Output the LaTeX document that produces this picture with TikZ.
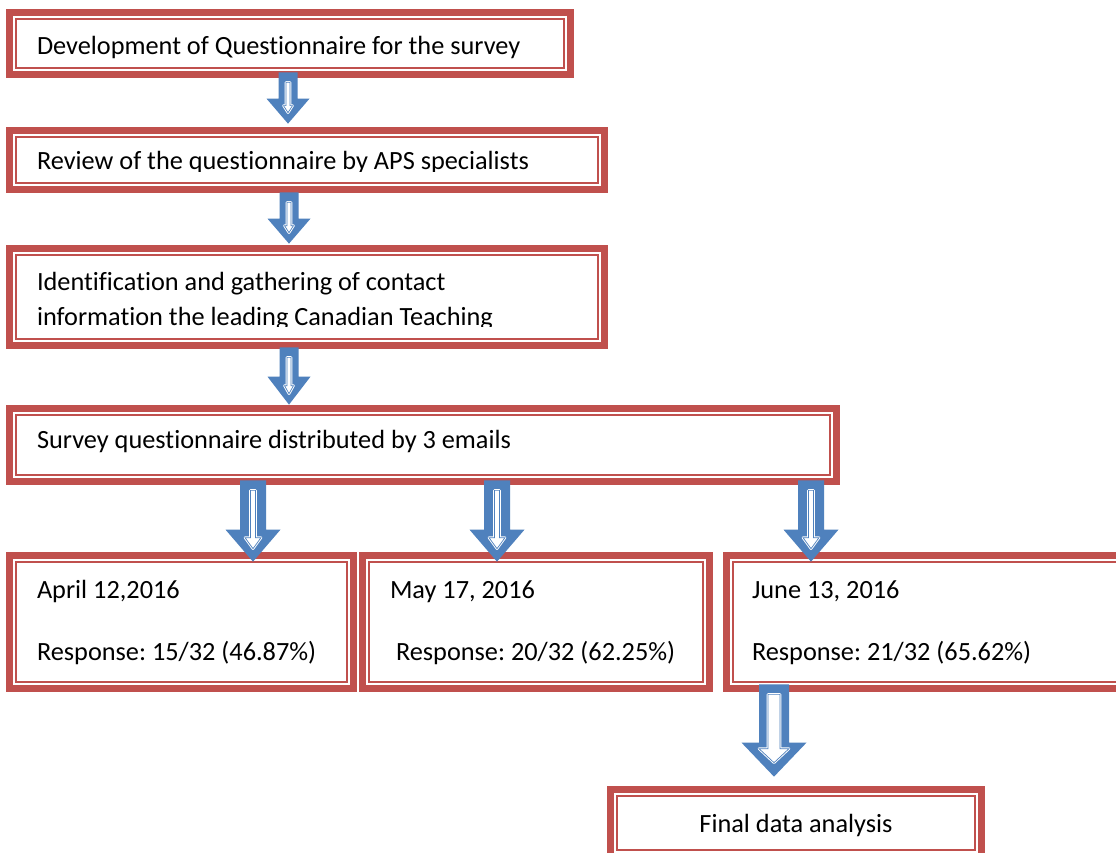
\documentclass[tikz,border=0pt]{standalone}
\usepackage{fontspec}
\setmainfont{Carlito}[Ligatures=NoCommon]
\frenchspacing
\usetikzlibrary{calc}
\definecolor{boxred}{HTML}{C0504D}
\definecolor{arrowblue}{HTML}{4F81BD}
\tikzset{
  dbox/.style={draw=boxred, line width=7.3pt, fill=white, inner sep=0pt, outer sep=0pt, rectangle,
    path picture={\draw[boxred, line width=1.8pt]
      ([shift={(6.45pt,6.45pt)}]path picture bounding box.south west) rectangle
      ([shift={(-6.45pt,-6.45pt)}]path picture bounding box.north east);}},
  txt/.style={anchor=base west, inner sep=0pt, outer sep=0pt, text=black,
    font=\fontsize{26.3}{31.5}\selectfont\frenchspacing},
  txtc/.style={txt, anchor=base}
}
\newcommand\bx[5]{\node[dbox, minimum width={#4-#2-7.3}, minimum height={#5-#3-7.3}] (#1) at ({(#2+#4)/2},{(#3+#5)/2}) {};}
% #1 top coord, #2 tip coord, #3 shaft half, #4 head half, #5 head length,
% #6 inner shaft half, #7 inner head half, #8 tip inset, #9 inner head-base offset
\newcommand\blockarrow[9]{%
  \fill[arrowblue] ($(#1)+(-#3,0)$) -- ($(#1)+(#3,0)$) -- ($(#2)+(#3,-#5)$) -- ($(#2)+(#4,-#5)$) -- (#2)
    -- ($(#2)+(-#4,-#5)$) -- ($(#2)+(-#3,-#5)$) -- cycle;
  \filldraw[fill=white, draw=white, line width=2.6pt, line join=round]
    ($(#1)+(-#6,10)$) -- ($(#1)+(#6,10)$) -- ($(#2)+(#6,-#5+#9)$) -- ($(#2)+(#7,-#5+#9)$) -- ($(#2)+(0,-#8)$)
    -- ($(#2)+(-#7,-#5+#9)$) -- ($(#2)+(-#6,-#5+#9)$) -- cycle;
  \draw[arrowblue, line width=0.7pt]
    ($(#1)+(-#6,10)$) -- ($(#1)+(#6,10)$) -- ($(#2)+(#6,-#5+#9)$) -- ($(#2)+(#7,-#5+#9)$) -- ($(#2)+(0,-#8)$)
    -- ($(#2)+(-#7,-#5+#9)$) -- ($(#2)+(-#6,-#5+#9)$) -- cycle;
}
\begin{document}
\begin{tikzpicture}[x=1pt,y=-1pt]
\clip (0,0) rectangle (1116,853);
\fill[white] (0,0) rectangle (1116,853);

% boxes
\bx{b1}{6}{9}{574}{78}
\bx{b2}{6}{127}{608}{193}
\bx{b3}{6}{245}{608}{349}
\bx{b4}{6}{405}{840}{485}
\bx{b5a}{6}{552}{357}{692}
\bx{b5b}{359}{552}{713}{692}
\bx{b5c}{723}{552}{1140}{692}
\bx{b6}{607}{786}{985}{860}

% texts
\node[txt] (t1) at (37,55) {Development of Questionnaire for the survey};
\begin{scope}
  \clip (0,0) rectangle (1116,171.5);
  \node[txt] (t2) at (37,170) {Review of the questionnaire by APS specialists};
\end{scope}
\node[txt] (t3a) at (37,290) {Identification and gathering of contact};
\begin{scope}
  \clip (0,0) rectangle (1116,326.5);
  \node[txt] (t3b) at (37,325) {information the leading Canadian Teaching};
\end{scope}
\node[txt] (t4) at (37,448) {Survey questionnaire distributed by 3 emails};
\node[txt] (t5a1) at (37,598) {April 12,2016};
\node[txt] (t5a2) at (37,660) {Response: 15/32 (46.87\%)};
\node[txt] (t5b1) at (390,598) {May 17, 2016};
\node[txt] (t5b2) at (396,660) {Response: 20/32 (62.25\%)};
\node[txt] (t5c1) at (752,598) {June 13, 2016};
\node[txt] (t5c2) at (752,660) {Response: 21/32 (65.62\%)};
\node[txtc] (t6) at (796,832) {Final data analysis};

% arrow end points
\coordinate (a1s) at ($(b1.south -| 288,0)+(0,-2)$);
\coordinate (a1e) at ($(b2.north -| 288,0)+(0,-7)$);
\coordinate (a2s) at ($(b2.south -| 289,0)+(0,3)$);
\coordinate (a2e) at ($(b3.north -| 289,0)+(0,-5)$);
\coordinate (a3s) at ($(b3.south -| 289,0)+(0,2)$);
\coordinate (a3e) at ($(b4.north -| 289,0)+(0,-4)$);
\coordinate (a4s) at ($(b4.south -| 253,0)+(0,-1)$);
\coordinate (a4e) at ($(b5a.north -| 253,0)+(0,6)$);
\coordinate (a5s) at ($(b4.south -| 497,0)+(0,-1)$);
\coordinate (a5e) at ($(b5b.north -| 497,0)+(0,6)$);
\coordinate (a6s) at ($(b4.south -| 811,0)+(0,-1)$);
\coordinate (a6e) at ($(b5c.north -| 811,0)+(0,6)$);
\coordinate (a7s) at ($(b5c.south -| 774,0)+(0,-4)$);
\coordinate (a7e) at ($(b6.north -| 774,0)+(0,-13)$);

% arrows
\blockarrow{a1s}{a1e}{9.5}{21.5}{25}{2}{4.5}{11}{7}
\blockarrow{a2s}{a2e}{9.5}{21.5}{25}{2}{4.5}{11}{7}
\blockarrow{a3s}{a3e}{9.5}{21.5}{28}{2}{4.5}{11}{9}
\blockarrow{a4s}{a4e}{13}{27.5}{32}{2.5}{8}{13}{8}
\blockarrow{a5s}{a5e}{13}{27.5}{32}{2.5}{8}{13}{8}
\blockarrow{a6s}{a6e}{13}{27.5}{32}{2.5}{8}{13}{8}
\blockarrow{a7s}{a7e}{15}{32.5}{34}{6}{15}{14}{6}
\end{tikzpicture}
\end{document}
